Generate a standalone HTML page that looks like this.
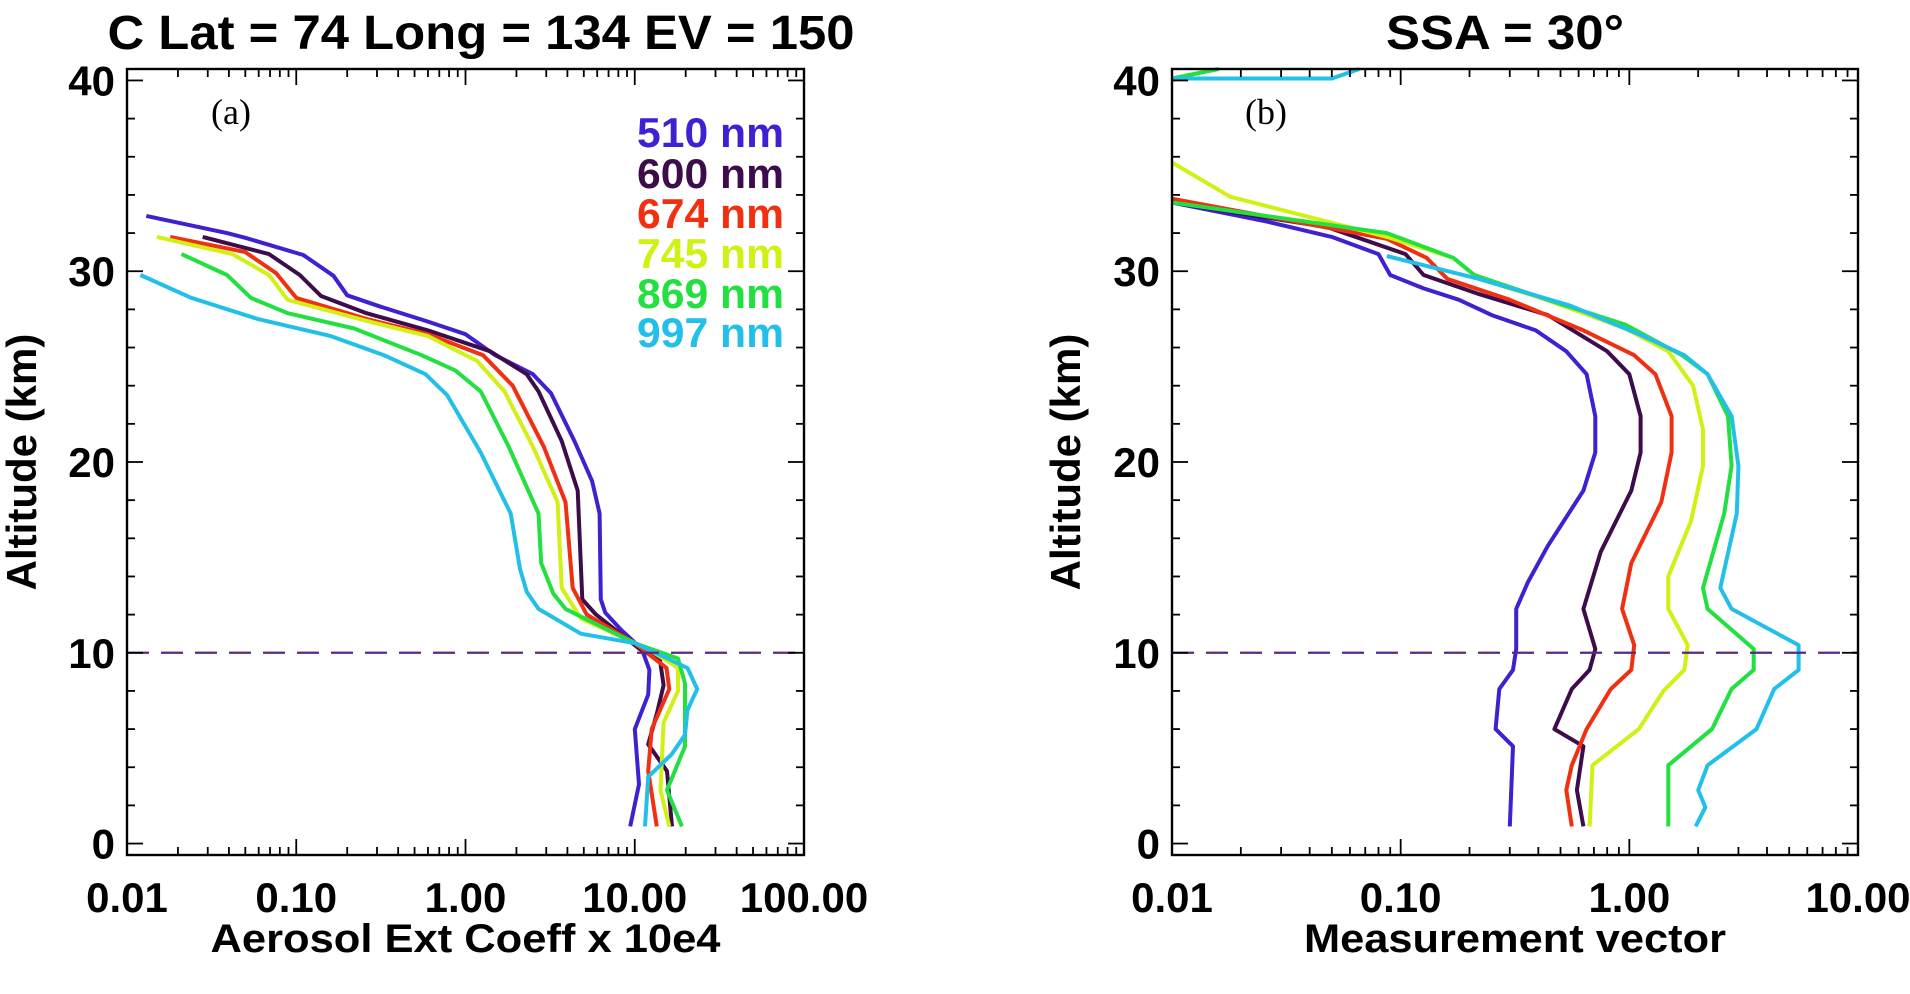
<!DOCTYPE html>
<html><head><meta charset="utf-8"><style>
html,body{margin:0;padding:0;background:#fff;}
svg{display:block;font-family:"Liberation Sans",sans-serif;}
</style></head><body>
<svg id="chart" width="1910" height="994" viewBox="0 0 1910 994" xmlns="http://www.w3.org/2000/svg"></svg>
<script>
const wavelengths = ["510 nm","600 nm","674 nm","745 nm","869 nm","997 nm"];
const colors = ["#4020d0","#3d0c4a","#f03010","#d2f014","#22e040","#22c0e8"];
// Panel (a): aerosol extinction, [value, altitude km]
const extA510 = [[0.013,32.9],[0.039,32.0],[0.05,31.75],[0.11,30.85],[0.166,29.76],[0.2,28.74],[0.31,28.16],[0.6,27.36],[1.0,26.7],[1.5,25.6],[2.5,24.6],[3.2,23.6],[4.4,21.1],[5.6,19.0],[6.2,17.3],[6.3,12.8],[6.7,12.1],[8.3,11.2],[11,10.2],[12.2,9.1],[12,7.8],[10,6.0],[10.6,3.1],[9.4,0.9]];
const extA600 = [[0.028,31.8],[0.069,30.9],[0.105,29.8],[0.14,28.7],[0.26,27.8],[0.6,26.9],[1.4,25.8],[2.3,24.6],[2.7,23.7],[3.7,21.1],[4.6,18.5],[4.9,12.8],[5.9,12.0],[10.7,10.2],[14.1,9.6],[14.8,8.3],[13.5,6.8],[12,5.2],[15.5,3.8],[16.6,0.9]];
const extA674 = [[0.018,31.8],[0.05,31.0],[0.076,29.9],[0.1,28.6],[0.26,27.5],[0.6,26.7],[1.27,25.6],[1.9,24.0],[2.9,20.8],[3.9,17.9],[4.3,13.4],[5.2,12.0],[10,10.5],[15.4,9.2],[16,8.1],[12.6,6.0],[12,3.8],[13.5,0.9]];
const extA745 = [[0.015,31.8],[0.042,30.9],[0.069,29.8],[0.089,28.5],[0.26,27.4],[0.6,26.6],[1.17,25.3],[1.7,23.7],[2.5,20.8],[3.5,17.9],[3.7,13.4],[4.8,11.8],[12,10.2],[18,9.2],[18,8.0],[14.8,6.35],[14.2,2.8],[16,0.9]];
const extA869 = [[0.021,30.9],[0.039,29.8],[0.054,28.6],[0.089,27.8],[0.22,27.0],[0.55,25.6],[0.87,24.8],[1.23,23.7],[1.8,20.8],[2.7,17.3],[2.8,14.7],[3.3,13.1],[3.9,12.3],[10,10.5],[18,9.7],[19.8,8.4],[19.8,5.1],[15.5,2.8],[19,0.9]];
const extA997 = [[0.012,29.8],[0.024,28.6],[0.059,27.5],[0.16,26.6],[0.33,25.6],[0.58,24.6],[0.78,23.5],[1.23,20.5],[1.85,17.3],[2.1,14.4],[2.3,13.2],[2.7,12.3],[4.8,11.0],[10,10.5],[20.5,9.2],[23.4,8.1],[20.5,7.0],[19.8,5.7],[16.6,4.7],[12,3.5],[11.5,0.9]];
// Panel (b): measurement vector, [value, altitude km]
const mvB510 = [[0.01,33.6],[0.026,32.6],[0.05,31.8],[0.08,30.9],[0.09,29.8],[0.126,29.1],[0.18,28.5],[0.25,27.7],[0.39,26.9],[0.53,25.8],[0.65,24.6],[0.71,22.4],[0.71,20.5],[0.63,18.5],[0.44,15.6],[0.36,13.7],[0.32,12.3],[0.32,10.2],[0.31,9.1],[0.27,8.1],[0.26,6.0],[0.31,5.1],[0.30,0.9]];
const mvB600 = [[0.01,33.6],[0.048,32.3],[0.105,30.9],[0.126,29.8],[0.22,28.8],[0.44,27.7],[0.8,25.8],[1.0,24.6],[1.12,22.4],[1.12,20.5],[1.02,18.5],[0.75,15.3],[0.63,12.3],[0.71,10.2],[0.67,9.1],[0.56,8.1],[0.47,6.0],[0.63,5.1],[0.59,2.8],[0.63,0.9]];
const mvB674 = [[0.01,33.8],[0.087,31.7],[0.13,30.7],[0.16,29.6],[0.3,28.5],[0.63,26.9],[1.05,25.6],[1.3,24.6],[1.53,22.4],[1.53,20.5],[1.38,17.9],[1.02,14.7],[0.93,12.3],[1.05,10.4],[1.02,9.1],[0.83,8.1],[0.65,6.0],[0.56,4.1],[0.53,2.8],[0.56,0.9]];
const mvB745 = [[0.01,35.7],[0.018,33.9],[0.087,31.8],[0.17,30.7],[0.22,29.6],[0.41,28.6],[0.96,27.0],[1.48,25.8],[1.9,24.0],[2.1,21.7],[2.1,19.8],[1.86,16.9],[1.48,14.0],[1.48,12.3],[1.8,10.4],[1.74,9.1],[1.41,8.0],[1.1,6.0],[0.69,4.1],[0.67,0.9]];
const mvB869 = [[0.01,33.6],[0.087,32.0],[0.17,30.7],[0.21,29.8],[0.44,28.5],[0.96,27.2],[1.7,25.6],[2.2,24.6],[2.7,22.4],[2.8,19.8],[2.6,17.3],[2.1,13.4],[2.2,12.3],[3.5,10.2],[3.5,9.1],[2.8,8.1],[2.3,6.0],[1.48,4.1],[1.48,0.9]];
const mvB997 = [[0.087,30.8],[0.22,29.6],[0.55,28.2],[1.1,26.7],[1.74,25.6],[2.2,24.6],[2.8,22.4],[3.0,19.8],[2.95,17.3],[2.5,13.4],[2.8,12.3],[5.5,10.4],[5.5,9.1],[4.3,8.1],[3.6,6.0],[2.2,4.1],[2.0,2.8],[2.15,1.9],[1.95,0.9]];
const mvB869Top = [[0.01,40.1],[0.016,40.6]];
const mvB997Top = [[0.01,40.1],[0.05,40.1],[0.066,40.6]];
const yTicks = [0,10,20,30,40];
const xTicksA = ["0.01","0.10","1.00","10.00","100.00"];
const xTicksB = ["0.01","0.10","1.00","10.00"];

const NS="http://www.w3.org/2000/svg";
const svg=document.getElementById('chart');
function mk(tag,attrs,parent){const e=document.createElementNS(NS,tag);for(const k in attrs)e.setAttribute(k,attrs[k]);(parent||svg).appendChild(e);return e;}

function panel(p){
  const g=mk('g',{});
  
  
  const yMin=-0.6,yMax=40.6,top=69,bot=855;
  const X=v=>p.left+(Math.log10(v)-p.lmin)/(p.lmax-p.lmin)*(p.right-p.left);
  const Y=a=>bot-(a-yMin)/(yMax-yMin)*(bot-top);
  p.series.forEach((s,i)=>{
    const d=s.pts.map((q,j)=>(j?'L':'M')+X(q[0]).toFixed(1)+' '+Y(q[1]).toFixed(1)).join(' ');
    const path=mk('path',{d:d,fill:'none',stroke:s.color,'stroke-width':4,'stroke-linejoin':'round'},g);
    
    
  });
  const dl=mk('line',{x1:p.left,x2:p.right,y1:Y(10),y2:Y(10),stroke:'#5a2a80','stroke-width':2.2,'stroke-dasharray':'22 12'},g);
  
  
  const fr=mk('rect',{x:p.left,y:top,width:p.right-p.left,height:bot-top,fill:'none',stroke:'#000','stroke-width':2.4},g);
  
  
  for(let a=0;a<=40;a+=2){
    const L=(a%10===0)?16:8;
    mk('line',{x1:p.left,x2:p.left+L,y1:Y(a),y2:Y(a),stroke:'#000','stroke-width':1.8},g);
    mk('line',{x1:p.right,x2:p.right-L,y1:Y(a),y2:Y(a),stroke:'#000','stroke-width':1.8},g);
  }
  yTicks.forEach(a=>{
    const t=mk('text',{x:p.left-12,y:Y(a)+15,'text-anchor':'end','font-size':42,'font-weight':'bold'},g);
    t.textContent=a;
    
    
  });
  for(let e=p.lmin;e<p.lmax;e++){
    for(let m=1;m<10;m++){
      const v=m*Math.pow(10,e);const x=X(v);const L=m===1?16:8;
      mk('line',{x1:x,x2:x,y1:bot,y2:bot-L,stroke:'#000','stroke-width':1.8},g);
      mk('line',{x1:x,x2:x,y1:top,y2:top+L,stroke:'#000','stroke-width':1.8},g);
    }
  }
  p.xlabels.forEach((lab,i)=>{
    const t=mk('text',{x:X(Math.pow(10,p.lmin+i)),y:912,'text-anchor':'middle','font-size':42,'font-weight':'bold'},g);
    t.textContent=lab;
    
    
  });
  const xt=mk('text',{x:(p.left+p.right)/2,y:952,'text-anchor':'middle','font-size':40,'font-weight':'bold',textLength:p.xtLen,lengthAdjust:'spacingAndGlyphs'},g);
  xt.textContent=p.xtitle;
  
  
  const yt=mk('text',{x:0,y:0,'text-anchor':'middle','font-size':42,'font-weight':'bold',transform:`translate(${p.ytx},${(top+bot)/2}) rotate(-90)`},g);
  yt.textContent='Altitude (km)';
  
  
  const tt=mk('text',{x:p.titleX,y:49,'text-anchor':'middle','font-size':48,'font-weight':'bold',textLength:p.titleLen,lengthAdjust:'spacingAndGlyphs'},g);
  tt.textContent=p.title;
  
  
  const pl=mk('text',{x:p.labX,y:124,'text-anchor':'middle','font-size':36,'font-family':'Liberation Serif, serif'},g);
  pl.textContent=p.lab;
  
  
  return g;
}
panel({name:'panel-a',left:127,right:804,lmin:-2,lmax:2,xlabels:xTicksA,xtitle:'Aerosol Ext Coeff x 10e4',xtLen:510,ytx:36,
  title:'C Lat = 74 Long = 134 EV = 150',titleLen:747,titleX:481,lab:'(a)',labX:231,
  series:[extA510,extA600,extA674,extA745,extA869,extA997].map((pts,i)=>({pts,color:colors[i],name:'line-a-'+wavelengths[i].replace(' ','')}))});
panel({name:'panel-b',left:1172,right:1858,lmin:-2,lmax:1,xlabels:xTicksB,xtitle:'Measurement vector',xtLen:422,ytx:1080,
  title:'SSA = 30°',titleLen:238,titleX:1505,lab:'(b)',labX:1266,
  series:[mvB510,mvB600,mvB674,mvB745,mvB869,mvB997,mvB869Top,mvB997Top].map((pts,i)=>({pts,color:colors[i<6?i:(i===6?4:5)],name:'line-b-'+(i<6?wavelengths[i].replace(' ',''):'top-'+i)}))});
const lg=mk('g',{});


const ly=[147,188,228,268,308,347];
wavelengths.forEach((w,i)=>{
  const t=mk('text',{x:784,y:ly[i],'text-anchor':'end','font-size':42,'font-weight':'bold',fill:colors[i],textLength:147,lengthAdjust:'spacingAndGlyphs'},lg);
  t.textContent=w;
  
  
});
</script>
</body></html>
